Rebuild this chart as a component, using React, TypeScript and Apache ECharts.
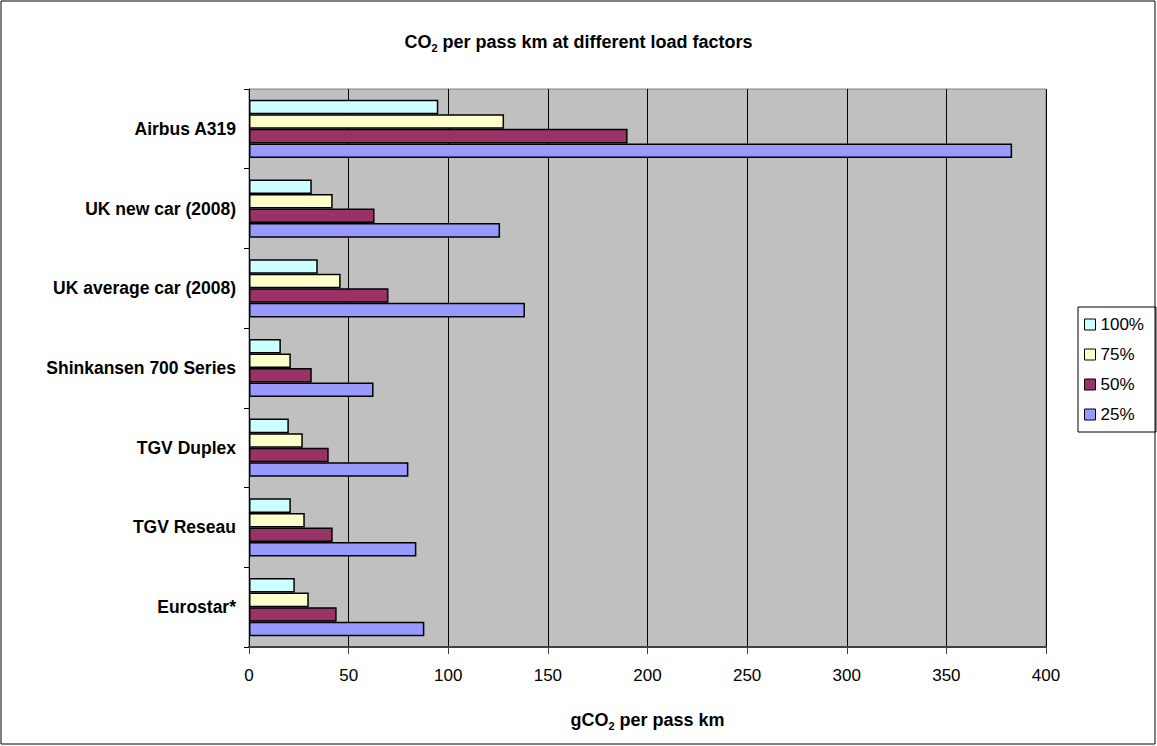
import React, { useEffect, useRef } from 'react';
import * as echarts from 'echarts';

const categories = [
  'Airbus A319',
  'UK new car (2008)',
  'UK average car (2008)',
  'Shinkansen 700 Series',
  'TGV Duplex',
  'TGV Reseau',
  'Eurostar*',
];
const load100 = [95, 31.5, 34.5, 16, 20, 21, 23];
const load75 = [128, 42, 46, 21, 27, 28, 30];
const load50 = [190, 63, 70, 31.5, 40, 42, 44];
const load25 = [383, 126, 138.5, 62.5, 80, 84, 88];
const legendNames = ['100%', '75%', '50%', '25%'];
const colors = ['#CCFFFF', '#FFFFCC', '#993366', '#9999FF'];
const xMin = 0;
const xMax = 400;
const xStep = 50;

const FONT = 'Liberation Sans, Arial, sans-serif';

export default function App() {
  const ref = useRef<HTMLDivElement>(null);
  useEffect(() => {
    if (!ref.current) return;
    const chart = echarts.init(ref.current, undefined, { renderer: 'svg' });
    const seriesData = [load100, load75, load50, load25];
    const mk = (i: number) => ({
      type: 'bar',
      name: legendNames[i],
      data: seriesData[i],
      barGap: '0%',
      barCategoryGap: '27%',
      itemStyle: { color: colors[i], borderColor: '#000', borderWidth: 1.5 },
      emphasis: { disabled: true },
    });
    const subStyle = { fontFamily: FONT, fontSize: 11, fontWeight: 'bold', verticalAlign: 'bottom', lineHeight: 22, color: '#000' };
    chart.setOption({
      animation: false,
      backgroundColor: '#fff',
      textStyle: { fontFamily: FONT },
      title: {
        text: 'CO{sub|2} per pass km at different load factors',
        left: 'center',
        top: 31,
        padding: 0,
        textStyle: {
          fontFamily: FONT,
          fontSize: 18,
          fontWeight: 'bold',
          color: '#000',
          rich: { sub: subStyle },
        },
      },
      legend: {
        orient: 'vertical',
        left: 1078,
        top: 307,
        padding: [9, 12, 9, 6],
        itemWidth: 11,
        itemHeight: 11,
        itemGap: 13,
        borderColor: '#000',
        borderWidth: 1,
        icon: 'rect',
        data: legendNames,
        itemStyle: { borderColor: '#000', borderWidth: 1 },
        textStyle: { fontFamily: FONT, fontSize: 17, color: '#000' },
        selectedMode: false,
      },
      grid: {
        left: 249,
        top: 89,
        right: 111,
        bottom: 99,
        show: true,
        backgroundColor: '#C0C0C0',
        borderColor: '#808080',
        borderWidth: 1,
      },
      xAxis: {
        type: 'value',
        min: xMin,
        max: xMax,
        interval: xStep,
        name: 'gCO{sub|2} per pass km',
        nameLocation: 'middle',
        nameGap: 62,
        nameTextStyle: {
          fontFamily: FONT,
          fontSize: 18,
          fontWeight: 'bold',
          color: '#000',
          rich: { sub: subStyle },
        },
        axisLine: { show: true, lineStyle: { color: '#404040', width: 2 } },
        axisTick: { show: true, length: 7, lineStyle: { color: '#404040', width: 1 } },
        axisLabel: { margin: 20, fontFamily: FONT, fontSize: 17, color: '#000' },
        splitLine: { show: true, lineStyle: { color: '#000', width: 1 } },
      },
      yAxis: {
        type: 'category',
        data: categories,
        inverse: true,
        axisLine: { show: true, lineStyle: { color: '#000', width: 1 } },
        axisTick: { show: true, length: 5, lineStyle: { color: '#000' } },
        axisLabel: { margin: 13, fontFamily: FONT, fontSize: 17.5, fontWeight: 'bold', color: '#000' },
        splitLine: { show: false },
      },
      graphic: [
        {
          type: 'rect',
          shape: { x: 1, y: 1, width: 1154, height: 743 },
          style: { fill: 'none', stroke: '#000', lineWidth: 1 },
          silent: true,
        },
      ],
      series: [mk(0), mk(1), mk(2), mk(3)],
    });
    return () => chart.dispose();
  }, []);
  return <div ref={ref} style={{ position: 'fixed', left: 0, top: 0, width: 1157, height: 746 }} />;
}
